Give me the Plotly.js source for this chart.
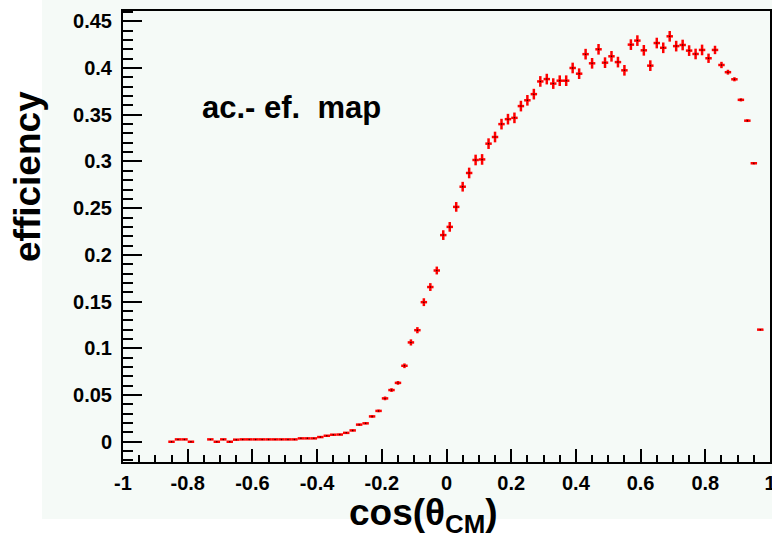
<!DOCTYPE html>
<html><head><meta charset="utf-8">
<script src="https://cdn.plot.ly/plotly-3.0.1.min.js"></script>
<style>html,body{margin:0;padding:0;background:#fff}#chart{width:772px;height:549px}</style>
</head><body><div id="chart"></div>
<script>
const cosTheta = [-0.85,-0.83,-0.81,-0.79,-0.73,-0.71,-0.69,-0.67,-0.65,-0.63,-0.61,-0.59,-0.57,-0.55,-0.53,-0.51,-0.49,-0.47,-0.45,-0.43,-0.41,-0.39,-0.37,-0.35,-0.33,-0.31,-0.29,-0.27,-0.25,-0.23,-0.21,-0.19,-0.17,-0.15,-0.13,-0.11,-0.09,-0.07,-0.05,-0.03,-0.01,0.01,0.03,0.05,0.07,0.09,0.11,0.13,0.15,0.17,0.19,0.21,0.23,0.25,0.27,0.29,0.31,0.33,0.35,0.37,0.39,0.41,0.43,0.45,0.47,0.49,0.51,0.53,0.55,0.57,0.59,0.61,0.63,0.65,0.67,0.69,0.71,0.73,0.75,0.77,0.79,0.81,0.83,0.85,0.87,0.89,0.91,0.93,0.95,0.97];
const efficiency = [0.000,0.0025,0.0025,0.000,0.0025,0.000,0.0025,0.000,0.0022,0.0025,0.0025,0.0025,0.0025,0.0025,0.0025,0.0025,0.0025,0.0025,0.0036,0.0036,0.0036,0.005,0.0064,0.0075,0.0077,0.0095,0.0121,0.0183,0.0197,0.0271,0.0330,0.0464,0.0553,0.0630,0.0813,0.1063,0.1194,0.1494,0.1656,0.1833,0.2212,0.2300,0.2514,0.2730,0.2877,0.3016,0.3022,0.3191,0.3262,0.3400,0.3453,0.3467,0.3593,0.3655,0.3721,0.3857,0.3882,0.3834,0.3865,0.3865,0.4001,0.3940,0.4149,0.4051,0.4201,0.4058,0.4126,0.4064,0.3976,0.4251,0.4294,0.4190,0.4026,0.4268,0.4217,0.4340,0.4235,0.4247,0.4187,0.4151,0.4194,0.4105,0.4194,0.4033,0.3956,0.3880,0.3660,0.3437,0.2981,0.1200];
const efficiencyErr = [0.0004,0.0004,0.0004,0.0004,0.0004,0.0004,0.0004,0.0004,0.0004,0.0004,0.0004,0.0004,0.0004,0.0004,0.0004,0.0004,0.0004,0.0004,0.0004,0.0004,0.0004,0.0007,0.0007,0.0007,0.0007,0.0007,0.001,0.001,0.001,0.0014,0.0014,0.002,0.002,0.002,0.0025,0.0033,0.0033,0.0042,0.0042,0.0042,0.0052,0.0052,0.0052,0.0052,0.0057,0.0057,0.0057,0.0057,0.0057,0.0057,0.0057,0.0057,0.0057,0.0057,0.0057,0.0057,0.0057,0.0057,0.0057,0.0057,0.0057,0.0057,0.0057,0.0057,0.0057,0.0057,0.0057,0.0057,0.0057,0.0057,0.0057,0.0057,0.0057,0.0057,0.0057,0.0057,0.0057,0.0057,0.0057,0.0057,0.0057,0.0050,0.0045,0.0034,0.0026,0.0022,0.0017,0.0015,0.0012,0.0005];
const binHalfWidth = 0.01;
const xTickVals = [-1,-0.8,-0.6,-0.4,-0.2,0,0.2,0.4,0.6,0.8,1];
const xTickText = ['-1','-0.8','-0.6','-0.4','-0.2','0','0.2','0.4','0.6','0.8','1'];
const yTickVals = [0,0.05,0.1,0.15,0.2,0.25,0.3,0.35,0.4,0.45];
const yTickText = ['0','0.05','0.1','0.15','0.2','0.25','0.3','0.35','0.4','0.45'];

const FONT = 'Liberation Sans, Arial, Helvetica, sans-serif';
const BG = '#f5faf7';

const trace = {
  x: cosTheta, y: efficiency, type: 'scatter', mode: 'markers',
  marker: {color: '#300', size: 1.5, line: {width: 0}},
  error_y: {type: 'data', array: efficiencyErr, visible: true, color: '#ff0000', thickness: 2.5, width: 0},
  error_x: {type: 'constant', value: binHalfWidth, visible: true, color: '#ff0000', thickness: 2.5, width: 0},
  hoverinfo: 'x+y'
};

const layout = {
  width: 772, height: 549,
  margin: {l: 123, r: 2, t: 11, b: 87, pad: 0},
  paper_bgcolor: '#ffffff', plot_bgcolor: 'rgba(0,0,0,0)',
  showlegend: false,
  font: {family: FONT, color: '#000'},
  xaxis: {
    range: [-1, 1], tickmode: 'array', tickvals: xTickVals, ticktext: xTickText,
    ticks: 'inside', ticklen: 13, tickwidth: 2, tickcolor: '#000',
    minor: {tickmode: 'linear', tick0: -1, dtick: 0.05, ticks: 'inside', ticklen: 7, tickwidth: 2, tickcolor: '#000', showgrid: false},
    showgrid: false, zeroline: false, showline: true, linecolor: '#000', linewidth: 2, mirror: true,
    tickfont: {family: FONT, size: 20, weight: 'bold', color: '#000'},
    ticklabeloverflow: 'allow', ticklabelstandoff: 2, fixedrange: true
  },
  yaxis: {
    range: [-0.0217, 0.4611], tickmode: 'array', tickvals: yTickVals, ticktext: yTickText,
    ticks: 'inside', ticklen: 19, tickwidth: 2, tickcolor: '#000',
    minor: {tickmode: 'linear', tick0: 0, dtick: 0.01, ticks: 'inside', ticklen: 10, tickwidth: 2, tickcolor: '#000', showgrid: false},
    showgrid: false, zeroline: false, showline: true, linecolor: '#000', linewidth: 2, mirror: true,
    tickfont: {family: FONT, size: 20, weight: 'bold', color: '#000'},
    ticklabeloverflow: 'allow', ticklabelstandoff: 5, fixedrange: true
  },
  shapes: [{type: 'rect', xref: 'paper', yref: 'paper', x0: -0.1252, x1: 1.01, y0: -0.1264, y1: 1.03,
            fillcolor: BG, line: {width: 0}, layer: 'below'}],
  annotations: [
    {text: 'efficiency', xref: 'paper', yref: 'paper', x: -0.1468, y: 0.632, xanchor: 'center', yanchor: 'middle',
     textangle: -90, showarrow: false, font: {family: FONT, size: 37, weight: 'bold', color: '#000'}},
    {text: 'cos(θ<sub>CM</sub>)', xref: 'paper', yref: 'paper', x: 0.4637, y: -0.1175, xanchor: 'center', yanchor: 'middle',
     showarrow: false, font: {family: FONT, size: 37, weight: 'bold', color: '#000'}},
    {text: 'ac.- ef.  map', xref: 'paper', yref: 'paper', x: 0.119, y: 0.785, xanchor: 'left', yanchor: 'middle',
     showarrow: false, font: {family: FONT, size: 31, weight: 'bold', color: '#000'}}
  ]
};

Plotly.newPlot('chart', [trace], layout, {displayModeBar: false, staticPlot: true});
</script>
</body></html>
